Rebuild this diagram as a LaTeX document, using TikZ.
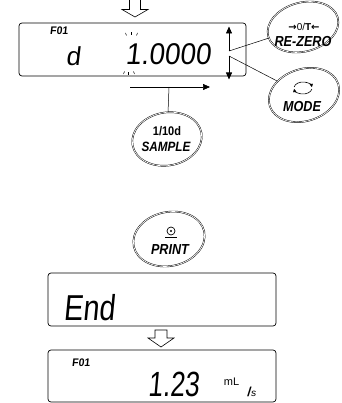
\documentclass[tikz,border=0pt]{standalone}
\usepackage{fontspec}
\setmainfont{Liberation Sans}
\newfontfamily\lcdfont[FakeSlant=0.12]{Liberation Sans}
\newfontfamily\symfont{DejaVu Sans}
\usetikzlibrary{shapes.geometric,arrows.meta}
\begin{document}
\begin{tikzpicture}[x=1pt,y=-1pt,line width=0.6pt,
  lcdbox/.style={draw, rounded corners=3pt, line width=0.7pt, inner sep=0pt},
  btn/.style={draw, ellipse, double, double distance=0.7pt, line width=0.45pt, inner sep=0pt},
  btntxt/.style={inner sep=0pt, font=\fontsize{14.5}{14.5}\selectfont\bfseries\itshape, xscale=0.87},
  lcdtxt/.style={inner sep=0pt, font=\lcdfont\fontsize{#1}{#1}\selectfont},
  lcdsmall/.style={inner sep=0pt, font=\lcdfont\bfseries\fontsize{11}{11}\selectfont, xscale=0.95},
  tip/.style={-{Triangle[length=7pt,width=6pt]}},
  hollow/.style={draw, line width=0.6pt, line join=miter}]
\useasboundingbox (0,0) rectangle (341,403);

% top hollow arrow
\draw[hollow] (129.5,-1) -- (129.5,9.5) -- (122,9.5) -- (135,17) -- (148,9.5) -- (140.5,9.5) -- (140.5,-1);

% first display
\node[lcdbox, minimum width=227pt, minimum height=53pt] (disp1) at (132.5,49.5) {};
\node[lcdsmall] (f1) at (59,31) {F01};
\node[lcdtxt=26] (dchar) at (73,56) {d};
\node[lcdtxt=30, xscale=0.93] (val1) at (168,54.5) {1.0000};
% blink marks
\draw[line width=0.5pt] (125.5,33) -- (126.5,35.5);
\draw[line width=0.5pt] (131.5,32.5) -- (131.5,35.5);
\draw[line width=0.5pt] (137.5,33) -- (136.5,35.5);
\draw[line width=0.5pt] (123.5,74) -- (124.5,71.5);
\draw[line width=0.5pt] (128.5,75) -- (128.5,72);
\draw[line width=0.5pt] (134.5,74) -- (133.5,71.5);

% up / down arrows
\coordinate (j1) at (229,51);
\coordinate (j2) at (229,56);
\draw[tip] (j1) -- (229,26.5);
\draw[tip] (j2) -- (229,79.5);

% RE-ZERO button
\node[btn, minimum width=72pt, minimum height=49pt, rotate=15] (rezero) at (303,27) {};
\node[inner sep=0pt, font=\fontsize{10}{10}\selectfont] (rzsym) at (304,27)
  {{\symfont\bfseries →}0/\textbf{T}{\symfont\bfseries ←}};
\node[btntxt] (rztxt) at (303,41.5) {RE-ZERO};

% MODE button
\node[btn, minimum width=72pt, minimum height=52pt, rotate=18] (mode) at (304,95) {};
\begin{scope}[shift={(303,88)}, line width=0.6pt]
  \draw[-{Triangle[length=3.2pt,width=3.2pt]}] (190:9 and 6) arc[start angle=190, end angle=352, x radius=9, y radius=6];
  \draw[-{Triangle[length=3.2pt,width=3.2pt]}] (10:9 and 6) arc[start angle=10, end angle=172, x radius=9, y radius=6];
\end{scope}
\node[btntxt] (modetxt) at (302,107) {MODE};

% connectors to buttons
\draw[line width=0.5pt] (j1) -- (rezero);
\draw[line width=0.5pt] (j2) -- (mode);

% horizontal arrow and SAMPLE button
\coordinate (h1) at (130,87);
\coordinate (h2) at (210,87);
\coordinate (hm) at (169,87);
\draw[tip] (h1) -- (h2);
\node[btn, minimum width=70pt, minimum height=53pt, rotate=10] (sample) at (167,139) {};
\draw[line width=0.5pt] (hm) -- (sample);
\node[inner sep=0pt, font=\fontsize{12.5}{12.5}\selectfont\bfseries, xscale=0.88] (tenth) at (167,131) {1/10d};
\node[btntxt, font=\fontsize{13.5}{13.5}\selectfont\bfseries\itshape] (sampletxt) at (166,147) {SAMPLE};

% PRINT button
\node[btn, minimum width=72pt, minimum height=54pt, rotate=12] (print) at (169,239) {};
\begin{scope}[shift={(171,231)}]
  \draw[line width=0.7pt] (0,0) circle[radius=4];
  \fill (0,0) circle[radius=1.2];
  \draw[line width=1pt] (-6,6) -- (6,6);
\end{scope}
\node[btntxt] (printtxt) at (170,249.5) {PRINT};

% End display
\node[lcdbox, minimum width=228pt, minimum height=53pt] (disp2) at (162,299.5) {};
\node[lcdtxt=36, xscale=0.8] (endtxt) at (89,308) {End};

% lower hollow arrow
\draw[hollow] (155,330) -- (155,338) -- (148,338) -- (161,347) -- (174,338) -- (167,338) -- (167,330) -- cycle;

% result display
\node[lcdbox, minimum width=228pt, minimum height=52pt] (disp3) at (162,376) {};
\node[lcdsmall] (f2) at (81,362.5) {F01};
\node[lcdtxt=35, xscale=0.75] (val2) at (173.5,384.5) {1.23};
\node[inner sep=0pt, font=\fontsize{11}{11}\selectfont] (unit1) at (231.5,382) {mL};
\node[inner sep=0pt, font=\lcdfont\fontsize{13}{13}\selectfont] (unit2) at (251.5,391.5) {\textbf{/}{\fontsize{10}{10}\selectfont s}};
\end{tikzpicture}
\end{document}
